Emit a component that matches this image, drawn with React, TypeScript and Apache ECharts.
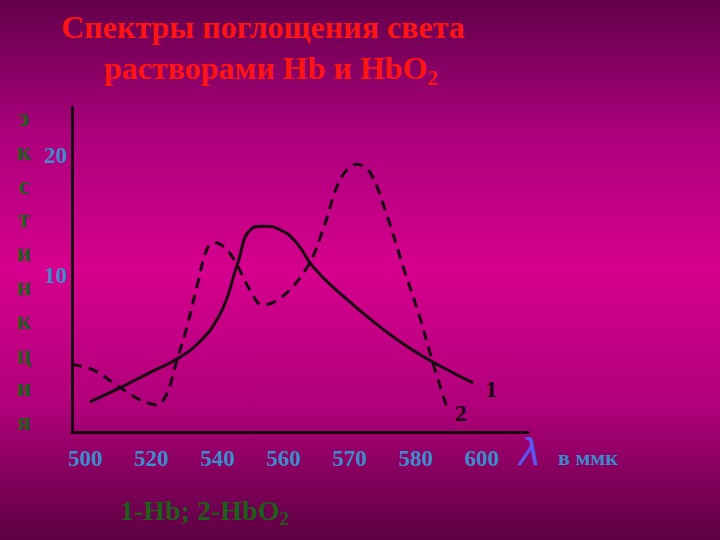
import React, { useEffect, useRef } from "react";
import * as echarts from "echarts";

const xLabels = ["500", "520", "540", "560", "570", "580", "600"];
const xPositions = [0, 1, 2, 3, 4, 5, 6];
const yLabelValues = [10, 20];
const yTitleChars = ["э", "к", "с", "т", "и", "н", "к", "ц", "и", "я"];

// Curve 1 — Hb (solid), x in label-position units, y in extinction units
const hbCurve: [number, number][] = [
  [0.07, -0.5], [0.5, 0.6], [1.0, 2.0], [1.4, 3.1], [1.75, 4.6], [2.0, 6.4], [2.15, 8.2],
  [2.3, 10.9], [2.52, 13.9], [2.7, 14.1], [2.95, 13.8], [3.2, 12.7], [3.45, 10.7],
  [3.9, 8.3], [4.4, 6.0], [4.9, 4.0], [5.4, 2.4], [5.87, 1.08],
];

// Curve 2 — HbO2 (dashed)
const hbo2Curve: [number, number][] = [
  [-0.2, 2.6], [0.12, 2.17], [0.5, 0.8], [0.83, -0.33], [1.09, -0.75], [1.24, 0.25],
  [1.39, 3.0], [1.54, 5.75], [1.69, 9.08], [1.84, 12.17], [1.96, 12.75], [2.14, 12.17],
  [2.31, 10.75], [2.49, 8.83], [2.67, 7.58], [2.84, 7.75], [3.1, 8.83], [3.4, 11.08],
  [3.6, 13.83], [3.86, 18.0], [4.11, 19.25], [4.31, 18.58], [4.57, 14.92],
  [4.81, 10.75], [5.06, 6.58], [5.26, 2.75], [5.47, -0.92],
];

const serif = "'Liberation Serif', 'DejaVu Serif', serif";
const lineColor = "#1a0512";
const blue = "#3a8ccc";
const green = "#1d5e18";

export default function App() {
  const ref = useRef<HTMLDivElement>(null);
  useEffect(() => {
    document.body.style.margin = "0";
    const chart = echarts.init(ref.current!, null, { renderer: "svg" });
    chart.setOption({
      animation: false,
      backgroundColor: {
        type: "linear", x: 0, y: 0, x2: 0, y2: 1,
        colorStops: [
          { offset: 0, color: "#62004a" },
          { offset: 0.25, color: "#ac007c" },
          { offset: 0.5, color: "#d6008e" },
          { offset: 0.75, color: "#b0007a" },
          { offset: 1, color: "#5c0042" },
        ],
      },
      grid: { left: 72, right: 192, top: 107, bottom: 108 },
      xAxis: {
        type: "value",
        min: -0.2,
        max: 6.7,
        axisLine: { show: true, onZero: false, lineStyle: { color: lineColor, width: 3 } },
        axisTick: { show: false },
        splitLine: { show: false },
        axisLabel: {
          customValues: xPositions,
          formatter: (v: number) => xLabels[Math.round(v)],
          color: blue,
          fontFamily: serif,
          fontWeight: "bold",
          fontSize: 23,
          margin: 15,
        },
      },
      yAxis: {
        type: "value",
        min: -3,
        max: 24,
        axisLine: { show: true, onZero: false, lineStyle: { color: lineColor, width: 3 } },
        axisTick: { show: false },
        splitLine: { show: false },
        axisLabel: {
          customValues: yLabelValues,
          color: blue,
          fontFamily: serif,
          fontWeight: "bold",
          fontSize: 23,
          margin: 5,
        },
        name: yTitleChars.join("\n"),
        nameLocation: "middle",
        nameRotate: 0,
        nameGap: 48,
        nameTextStyle: {
          color: green,
          fontFamily: serif,
          fontWeight: "bold",
          fontSize: 25,
          lineHeight: 33.8,
          align: "center",
        },
      },
      series: [
        {
          type: "line",
          data: hbCurve,
          smooth: 0.5,
          showSymbol: false,
          lineStyle: { color: lineColor, width: 3 },
          endLabel: {
            show: true,
            formatter: "1",
            distance: 12,
            offset: [0, 6],
            color: lineColor,
            fontFamily: serif,
            fontWeight: "bold",
            fontSize: 24,
          },
        },
        {
          type: "line",
          data: hbo2Curve,
          smooth: 0.35,
          showSymbol: false,
          lineStyle: { color: lineColor, width: 3, type: [10, 7] },
          endLabel: {
            show: true,
            formatter: "2",
            distance: 8,
            offset: [0, 6],
            color: lineColor,
            fontFamily: serif,
            fontWeight: "bold",
            fontSize: 24,
          },
        },
      ],
      graphic: [
        {
          type: "text",
          x: 263, y: 11,
          style: {
            text: "Спектры поглощения света",
            fill: "#ff1414",
            font: `bold 32px ${serif}`,
            textAlign: "center",
          },
        },
        {
          type: "text",
          x: 271, y: 47,
          style: {
            text: "растворами Hb и HbO{s|2}",
            fill: "#ff1414",
            font: `bold 32px ${serif}`,
            textAlign: "center",
            rich: {
              s: { fill: "#ff1414", fontFamily: serif, fontWeight: "bold", fontSize: 21, padding: [20, 0, 0, 0] },
            },
          },
        },
        {
          type: "text",
          x: 519, y: 433,
          style: {
            text: "λ",
            fill: "#5a55f0",
            font: `italic 38px 'DejaVu Sans', sans-serif`,
          },
        },
        {
          type: "text",
          x: 558, y: 446,
          style: {
            text: "в ммк",
            fill: blue,
            font: `bold 22px ${serif}`,
          },
        },
        {
          type: "text",
          x: 120, y: 493,
          style: {
            text: "1-Hb; 2-HbO{s|2}",
            fill: green,
            font: `bold 28px ${serif}`,
            rich: {
              s: { fill: green, fontFamily: serif, fontWeight: "bold", fontSize: 19, padding: [16, 0, 0, 0] },
            },
          },
        },
      ],
    });
    return () => chart.dispose();
  }, []);
  return <div ref={ref} style={{ position: "absolute", left: 0, top: 0, width: 720, height: 540 }} />;
}
